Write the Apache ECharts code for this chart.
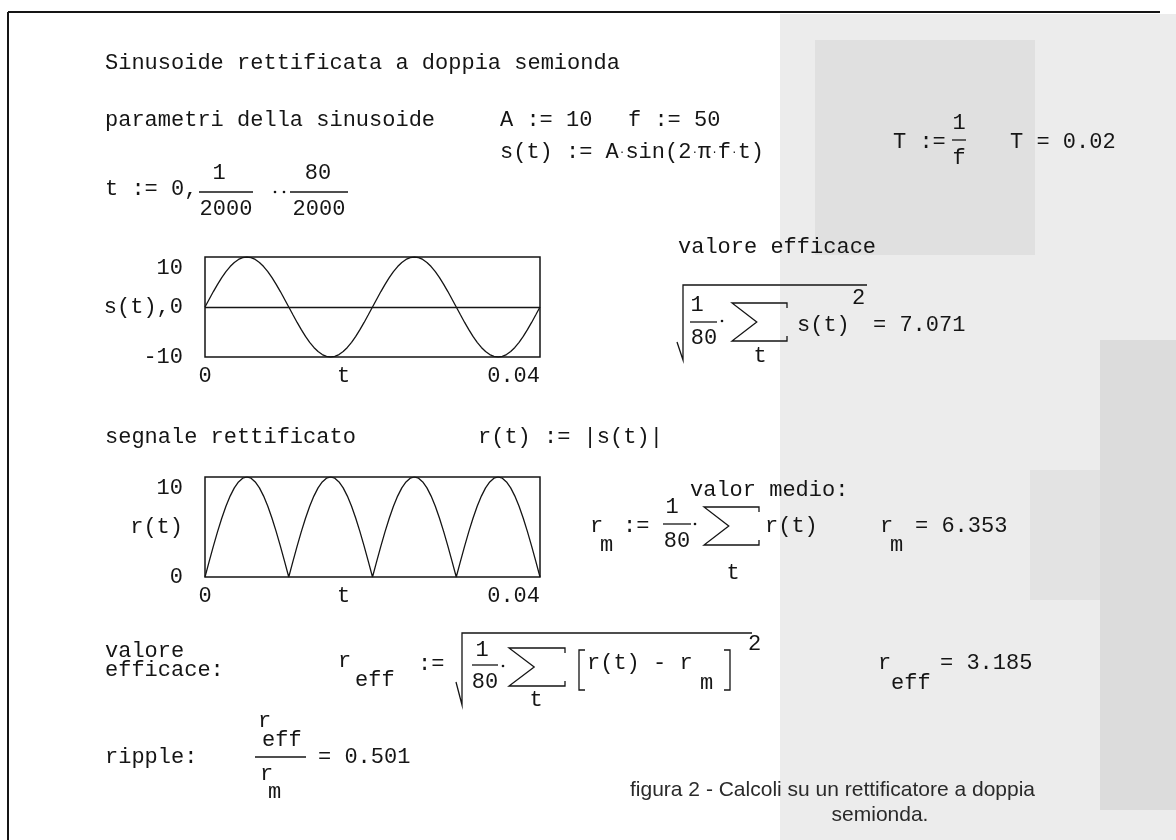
<!DOCTYPE html>
<html>
<head>
<meta charset="utf-8">
<script src="https://cdn.jsdelivr.net/npm/echarts@6.0.0/dist/echarts.min.js"></script>
<style>
  html, body { margin: 0; padding: 0; background: #fff; }
  #main { width: 1176px; height: 840px; }
</style>
</head>
<body>
<div id="main"></div>
<script>
// campioni t = 0 .. 80/2000
var tVals = [
  0, 0.0005, 0.001, 0.0015, 0.002, 0.0025, 0.003, 0.0035, 0.004, 0.0045,
  0.005, 0.0055, 0.006, 0.0065, 0.007, 0.0075, 0.008, 0.0085, 0.009, 0.0095,
  0.01, 0.0105, 0.011, 0.0115, 0.012, 0.0125, 0.013, 0.0135, 0.014, 0.0145,
  0.015, 0.0155, 0.016, 0.0165, 0.017, 0.0175, 0.018, 0.0185, 0.019, 0.0195,
  0.02, 0.0205, 0.021, 0.0215, 0.022, 0.0225, 0.023, 0.0235, 0.024, 0.0245,
  0.025, 0.0255, 0.026, 0.0265, 0.027, 0.0275, 0.028, 0.0285, 0.029, 0.0295,
  0.03, 0.0305, 0.031, 0.0315, 0.032, 0.0325, 0.033, 0.0335, 0.034, 0.0345,
  0.035, 0.0355, 0.036, 0.0365, 0.037, 0.0375, 0.038, 0.0385, 0.039, 0.0395,
  0.04
];
// s(t)
var sVals = [
  0, 1.56, 3.09, 4.54, 5.88, 7.07, 8.09, 8.91, 9.51, 9.88,
  10, 9.88, 9.51, 8.91, 8.09, 7.07, 5.88, 4.54, 3.09, 1.56,
  0, -1.56, -3.09, -4.54, -5.88, -7.07, -8.09, -8.91, -9.51, -9.88,
  -10, -9.88, -9.51, -8.91, -8.09, -7.07, -5.88, -4.54, -3.09, -1.56,
  0, 1.56, 3.09, 4.54, 5.88, 7.07, 8.09, 8.91, 9.51, 9.88,
  10, 9.88, 9.51, 8.91, 8.09, 7.07, 5.88, 4.54, 3.09, 1.56,
  0, -1.56, -3.09, -4.54, -5.88, -7.07, -8.09, -8.91, -9.51, -9.88,
  -10, -9.88, -9.51, -8.91, -8.09, -7.07, -5.88, -4.54, -3.09, -1.56,
  0
];
// r(t) = |s(t)|
var rVals = [
  0, 1.56, 3.09, 4.54, 5.88, 7.07, 8.09, 8.91, 9.51, 9.88,
  10, 9.88, 9.51, 8.91, 8.09, 7.07, 5.88, 4.54, 3.09, 1.56,
  0, 1.56, 3.09, 4.54, 5.88, 7.07, 8.09, 8.91, 9.51, 9.88,
  10, 9.88, 9.51, 8.91, 8.09, 7.07, 5.88, 4.54, 3.09, 1.56,
  0, 1.56, 3.09, 4.54, 5.88, 7.07, 8.09, 8.91, 9.51, 9.88,
  10, 9.88, 9.51, 8.91, 8.09, 7.07, 5.88, 4.54, 3.09, 1.56,
  0, 1.56, 3.09, 4.54, 5.88, 7.07, 8.09, 8.91, 9.51, 9.88,
  10, 9.88, 9.51, 8.91, 8.09, 7.07, 5.88, 4.54, 3.09, 1.56,
  0
];
var yLimits1 = [-10, 10];
var yLimits2 = [0, 10];
var xLimits = [0, 0.04];

var MONO = '"Liberation Mono", "Courier New", monospace';
var SANS = '"Liberation Sans", Arial, sans-serif';
var FS = 22;
var INK = '#151515';

function tx(x, y, s, align) {
  return { type: 'text', x: x, y: y, silent: true,
    style: { text: s, fontFamily: MONO, fontSize: FS, fill: INK, align: align || 'left', verticalAlign: 'middle' } };
}
function ln(x1, y1, x2, y2, w) {
  return { type: 'line', silent: true, shape: { x1: x1, y1: y1, x2: x2, y2: y2 },
    style: { stroke: INK, lineWidth: w || 1.3 } };
}
function pl(pts, w) {
  return { type: 'polyline', silent: true, shape: { points: pts },
    style: { stroke: INK, fill: null, lineWidth: w || 1.3 } };
}
function sigma(x, y, w, h) {
  return pl([[x + w, y + 5], [x + w, y], [x, y], [x + w * 0.45, y + h / 2], [x, y + h], [x + w, y + h], [x + w, y + h - 5]]);
}
function dot(x, y) {
  return { type: 'circle', silent: true, shape: { cx: x, cy: y, r: 1.3 }, style: { fill: INK } };
}
function rect(x, y, w, h, c) {
  return { type: 'rect', silent: true, shape: { x: x, y: y, width: w, height: h }, style: { fill: c } };
}

var graphics = [
  // sfondo della pagina scansionata
  rect(780, 14, 396, 826, '#ececec'),
  rect(815, 40, 220, 215, '#e0e0e0'),
  rect(1100, 340, 76, 470, '#dcdcdc'),
  rect(1030, 470, 70, 130, '#e3e3e3'),
  // cornice
  ln(8, 12, 1160, 12, 2),
  ln(8, 12, 8, 840, 2),

  tx(105, 63, 'Sinusoide rettificata a doppia semionda'),
  tx(105, 120, 'parametri della sinusoide'),
  tx(500, 120, 'A := 10'),
  tx(628, 120, 'f := 50'),
  { type: 'text', x: 500, y: 152, silent: true,
    style: { text: 's(t) := A{d|·}sin(2{d|·}π{d|·}f{d|·}t)', fontFamily: MONO, fontSize: FS, fill: INK, verticalAlign: 'middle',
      rich: { d: { fontFamily: MONO, fontSize: 11, fill: INK, verticalAlign: 'middle' } } } },
  tx(893, 142, 'T :='),
  tx(959, 123, '1', 'center'), ln(952, 140, 966, 140), tx(959, 158, 'f', 'center'),
  tx(1010, 142, 'T = 0.02'),

  tx(105, 189, 't := 0,'),
  tx(219, 173, '1', 'center'), ln(199, 192, 253, 192), tx(226, 209, '2000', 'center'),
  dot(275, 192), dot(284, 192),
  tx(318, 173, '80', 'center'), ln(290, 192, 348, 192), tx(319, 209, '2000', 'center'),

  // valore efficace di s(t)
  tx(678, 247, 'valore efficace'),
  pl([[677, 342], [683, 360], [683, 285], [867, 285]]),
  tx(697, 305, '1', 'center'), ln(690, 322, 717, 322), tx(704, 338, '80', 'center'),
  dot(722, 321),
  sigma(732, 303, 55, 38), tx(760, 356, 't', 'center'),
  tx(797, 325, 's(t)'),
  tx(852, 298, '2'),
  tx(873, 325, '= 7.071'),

  tx(105, 437, 'segnale rettificato'),
  tx(478, 437, 'r(t) := |s(t)|'),

  // valor medio
  tx(690, 490, 'valor medio:'),
  tx(590, 526, 'r'), tx(600, 545, 'm'),
  tx(623, 526, ':='),
  tx(672, 507, '1', 'center'), ln(663, 524, 691, 524), tx(677, 541, '80', 'center'),
  dot(695, 524),
  sigma(704, 507, 55, 38), tx(733, 573, 't', 'center'),
  tx(765, 526, 'r(t)'),
  tx(880, 526, 'r'), tx(890, 545, 'm'),
  tx(915, 526, '= 6.353'),

  // valore efficace di r(t)
  tx(105, 651, 'valore'),
  tx(105, 670, 'efficace:'),
  tx(338, 661, 'r'), tx(355, 680, 'eff'),
  tx(418, 664, ':='),
  pl([[456, 682], [462, 705], [462, 633], [752, 633]]),
  tx(482, 650, '1', 'center'), ln(472, 665, 498, 665), tx(485, 682, '80', 'center'),
  dot(503, 666),
  sigma(509, 648, 56, 38), tx(536, 700, 't', 'center'),
  pl([[585, 650], [579, 650], [579, 690], [585, 690]]),
  tx(587, 663, 'r(t) - r'), tx(700, 683, 'm'),
  pl([[724, 650], [730, 650], [730, 690], [724, 690]]),
  tx(748, 644, '2'),
  tx(878, 663, 'r'), tx(891, 683, 'eff'),
  tx(940, 663, '= 3.185'),

  // ripple
  tx(105, 757, 'ripple:'),
  tx(258, 721, 'r'), tx(262, 740, 'eff'),
  ln(255, 757, 306, 757),
  tx(260, 774, 'r'), tx(268, 792, 'm'),
  tx(318, 757, '= 0.501'),

  // didascalia
  { type: 'text', x: 630, y: 790, silent: true,
    style: { text: 'figura 2 - Calcoli su un rettificatore a doppia', fontFamily: SANS,
      fontSize: 21, fill: '#2a2a2a', verticalAlign: 'middle' } },
  { type: 'text', x: 880, y: 815, silent: true,
    style: { text: 'semionda.', fontFamily: SANS,
      fontSize: 21, fill: '#2a2a2a', align: 'center', verticalAlign: 'middle' } }
];

function pairs(ys) {
  return tVals.map(function (t, i) { return [t, ys[i]]; });
}

var labelStyle = { fontFamily: MONO, fontSize: FS, color: INK };
function xAxisCfg(gi) {
  return {
    type: 'value', gridIndex: gi, min: xLimits[0], max: xLimits[1], interval: 0.04,
    axisLine: { show: false }, axisTick: { show: false }, splitLine: { show: false },
    axisLabel: Object.assign({ margin: 8, alignMaxLabel: 'right',
      formatter: function (v) { return v === 0 ? '0' : v.toFixed(2); } }, labelStyle),
    name: 't', nameLocation: 'middle', nameGap: 8, nameMoveOverlap: false,
    nameTextStyle: Object.assign({ padding: [0, 58, 0, 0], verticalAlign: 'top' }, labelStyle)
  };
}
function yAxisCfg(gi, lim, step, nm) {
  return {
    type: 'value', gridIndex: gi, min: lim[0], max: lim[1], interval: step,
    axisLine: { show: false }, axisTick: { show: false }, splitLine: { show: false },
    axisLabel: Object.assign({ margin: 22, verticalAlignMaxLabel: 'top' }, labelStyle),
    name: nm, nameLocation: 'middle', nameRotate: 0, nameGap: 22, nameMoveOverlap: false,
    nameTextStyle: Object.assign({ align: 'right' }, labelStyle)
  };
}

var chart = echarts.init(document.getElementById('main'));
chart.setOption({
  animation: false,
  backgroundColor: '#ffffff',
  grid: [
    { left: 205, top: 257, width: 335, height: 100, show: true, borderColor: INK, borderWidth: 1.5 },
    { left: 205, top: 477, width: 335, height: 100, show: true, borderColor: INK, borderWidth: 1.5 }
  ],
  xAxis: [xAxisCfg(0), xAxisCfg(1)],
  yAxis: [yAxisCfg(0, yLimits1, 20, 's(t),0'), yAxisCfg(1, yLimits2, 10, 'r(t)')],
  series: [
    { type: 'line', name: 's(t)', xAxisIndex: 0, yAxisIndex: 0, data: pairs(sVals),
      showSymbol: false, lineStyle: { color: INK, width: 1.3 },
      markLine: { silent: true, symbol: 'none', label: { show: false },
        lineStyle: { color: INK, type: 'solid', width: 1.3 }, data: [{ yAxis: 0 }] } },
    { type: 'line', name: 'r(t)', xAxisIndex: 1, yAxisIndex: 1, data: pairs(rVals),
      showSymbol: false, lineStyle: { color: INK, width: 1.3 } }
  ],
  graphic: graphics
});
</script>
</body>
</html>
